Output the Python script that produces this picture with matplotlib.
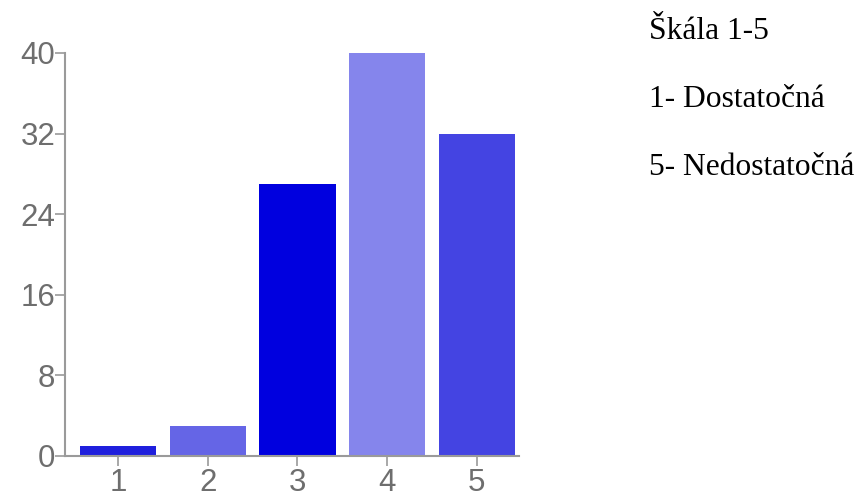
import matplotlib.pyplot as plt

categories = ['1', '2', '3', '4', '5']
counts = [1, 3, 27, 40, 32]
bar_colors = ['#1f1fdd', '#6565e6', '#0000df', '#8585ec', '#4444e2']
y_ticks = [0, 8, 16, 24, 32, 40]
notes = ['Škála 1-5', '1- Dostatočná', '5- Nedostatočná']

fig = plt.figure(figsize=(8.64, 4.97), dpi=100)
ax = fig.add_axes([0.0752, 0.0825, 0.5255, 0.8109])

x = range(1, len(categories) + 1)
ax.bar(x, counts, width=0.85, color=bar_colors, edgecolor='none')

ax.set_xlim(0.41, 5.47)
ax.set_ylim(0, 40)
ax.set_xticks(list(x))
ax.set_xticklabels(categories)
ax.set_yticks(y_ticks)

for side in ['top', 'right']:
    ax.spines[side].set_visible(False)
for side in ['left', 'bottom']:
    ax.spines[side].set_color('#9a9a9a')
    ax.spines[side].set_linewidth(1.5)

ax.tick_params(axis='both', colors='#9a9a9a', length=7, width=1.2,
               labelsize=22.5, labelcolor='#6e6e6e')
ax.tick_params(axis='y', pad=0)
ax.tick_params(axis='x', pad=1.5)
for lbl in ax.get_xticklabels() + ax.get_yticklabels():
    lbl.set_family('Liberation Sans')

# the note block on the right
for i, line in enumerate(notes):
    fig.text(649 / 864, 1 - (39 + 68 * i) / 497, line,
             family='Liberation Serif', fontsize=22.7, color='black',
             ha='left', va='baseline')

fig.savefig('out.png', dpi=100)
